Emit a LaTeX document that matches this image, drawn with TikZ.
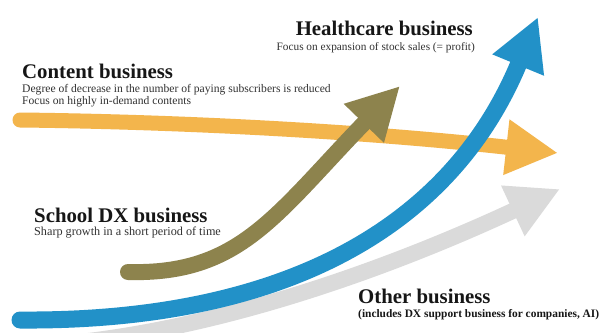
\documentclass[tikz,border=0pt]{standalone}
\usepackage{fontspec}
\setmainfont{Liberation Serif}
\usetikzlibrary{arrows.meta}
\definecolor{orangeband}{RGB}{243,181,76}
\definecolor{oliveband}{RGB}{141,131,77}
\definecolor{blueband}{RGB}{34,145,200}
\definecolor{grayband}{RGB}{218,218,218}
\definecolor{titleink}{RGB}{22,22,22}
\definecolor{noteink}{RGB}{50,50,50}
\tikzset{
  band/.style={line width=16pt, line cap=round,
    -{Triangle[width=52pt,length=52pt]}},
  title/.style={font=\fontsize{20.8}{22}\selectfont\bfseries, text=titleink, inner sep=0pt},
  note/.style={font=\fontsize{#1}{10.5}\selectfont, text=noteink, inner sep=0pt, align=left},
  note/.default=11.6,
  boldnote/.style={font=\fontsize{11.4}{12}\selectfont\bfseries, text=titleink, inner sep=0pt},
}
\begin{document}
\begin{tikzpicture}[x=1pt,y=-1pt]
\useasboundingbox[fill=white] (0,0) rectangle (602,332);

% growth bands, back to front
\coordinate (graystart) at (80,342);
\coordinate (graytip) at (560,189);
\draw[band, grayband] (graystart) .. controls (230,325) and (390,268) .. (graytip);

\coordinate (orangestart) at (20,120);
\coordinate (orangetip) at (558,153);
\draw[band, orangeband, line width=15pt] (orangestart) .. controls (200,122) and (380,133) .. (orangetip);

\coordinate (olivestart) at (128,272);
\coordinate (olivetip) at (400,86);
\draw[band, oliveband] (olivestart) .. controls (240,275) and (275,215) .. (olivetip);

\coordinate (bluestart) at (20,320);
\coordinate (bluetip) at (538,17);
\draw[band, blueband, line width=17pt] (bluestart) .. controls (280,322) and (450,230) .. (bluetip);

% labels
\node[title, anchor=base east] (health) at (473,35) {Healthcare business};
\node[note=11.3, anchor=base east] (healthnote) at (475,50) {Focus on expansion of stock sales (= profit)};

\node[title, anchor=base west] (content) at (22,78) {Content business};
\node[note, anchor=north west] (contentnote) at (22,84.5) {Degree of decrease in the number of paying subscribers is reduced\\Focus on highly in-demand contents};

\node[title, anchor=base west] (school) at (34,222) {School DX business};
\node[note=12.2, anchor=base west] (schoolnote) at (34,235) {Sharp growth in a short period of time};

\node[title, anchor=base west] (other) at (358,303) {Other business};
\node[boldnote, anchor=base west] (othernote) at (358,317) {(includes DX support business for companies, AI)};
\end{tikzpicture}
\end{document}
